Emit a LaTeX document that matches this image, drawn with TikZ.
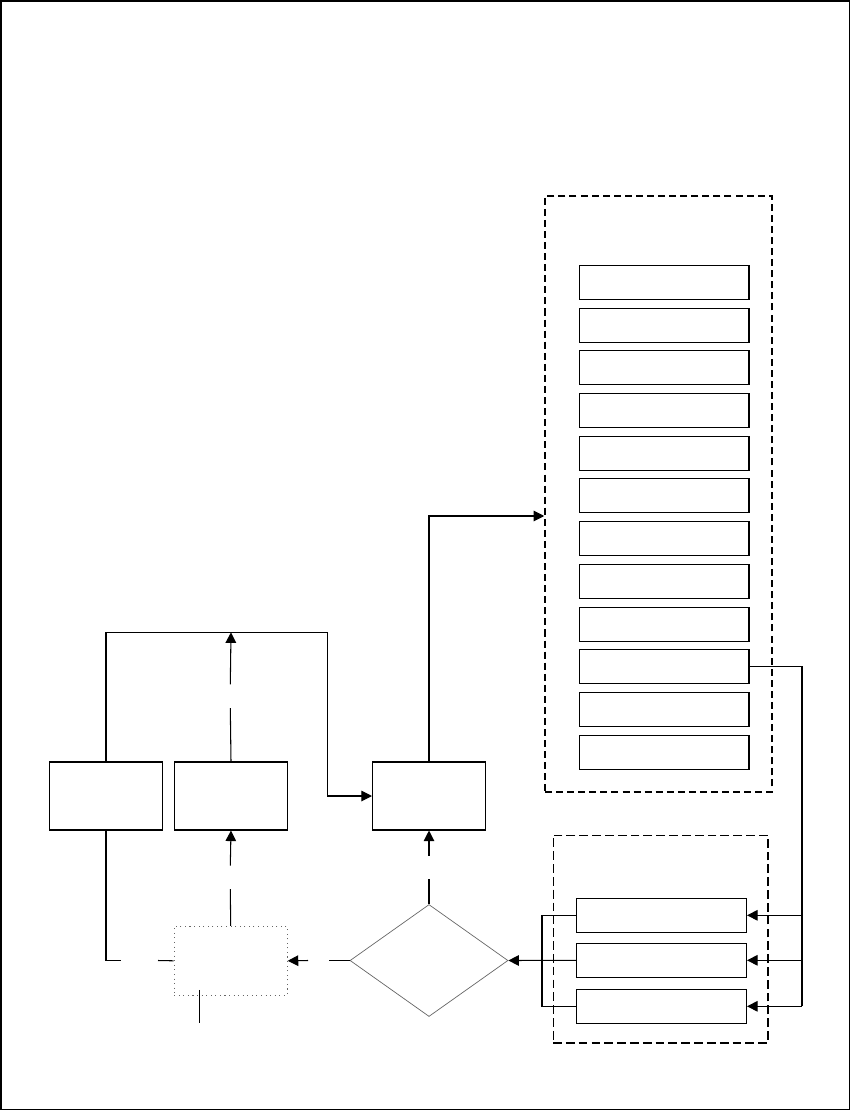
\documentclass[tikz,border=0pt]{standalone}
\usepackage{tikz}
\usetikzlibrary{arrows.meta,shapes.geometric}

\begin{document}
\begin{tikzpicture}[x={(0.02cm,0)}, y={(0,-0.02cm)}, line width=0.6pt,
    arr/.style={-{Triangle[length=6pt, width=6pt]}},
    blk/.style={draw, rectangle, minimum width=2.26cm, minimum height=1.36cm, inner sep=0pt},
    slot/.style={draw, rectangle, minimum width=3.4cm, minimum height=0.68cm, inner sep=0pt},
    bigframe/.style={draw, rectangle, line width=0.9pt, dash pattern=on 4pt off 2.3pt, inner sep=0pt},
    smallframe/.style={draw, rectangle, dash pattern=on 5pt off 2.3pt, inner sep=0pt}]
  \useasboundingbox (0,0) rectangle (851,1111);
  % OUTER FRAME
  \draw[line width=1pt] (1,1) rectangle (849.5,1109.5);

  % STACK — right column of twelve slots
  \node[bigframe, minimum width=4.54cm, minimum height=11.92cm] (lib) at (658.5,494) {};
  \foreach \i in {1,...,12}
    \node[slot] (s\i) at (664,{282.3+(\i-1)*42.73}) {};

  % LOWER GROUP — three slots
  \node[smallframe, minimum width=4.3cm, minimum height=4.16cm] (grp) at (660.5,939) {};
  \foreach \i/\y in {1/915.3, 2/960.3, 3/1006.3}
    \node[slot] (t\i) at (661.5,\y) {};

  % ROW OF BLOCKS
  \node[blk] (b1) at (106,796) {};
  \node[blk] (b2) at (231,796) {};
  \node[blk] (b3) at (429,796) {};
  \node[draw=black!60, dotted, rectangle, minimum width=2.26cm, minimum height=1.38cm, inner sep=0pt] (dot) at (230.7,960.8) {};
  \node[draw=black!60, line width=0.4pt, diamond, minimum width=3.16cm, minimum height=2.24cm, inner sep=0pt] (dia) at (429,960.5) {};

  % CONNECTORS
  \coordinate (loop) at (327.3,632.3);
  \draw[arr] (b1.north) |- (loop) |- (b3.west);
  \draw[arr] (b3.north) |- ([yshift=-0.44cm]lib.west);

  \coordinate (bus) at (802,0);
  \draw (s10.east) -| (bus |- t3.east);
  \foreach \i in {1,2,3}
    \draw[arr] (bus |- t\i.east) -- (t\i.east);

  \coordinate (brk) at (542,0);
  \draw (t1.west) -| (brk |- t3.west) -- (t3.west);
  \draw[arr] (t2.west) -- (dia.east);

  % broken connectors (gaps)
  \coordinate (g1a) at (230.3,708); \coordinate (g1b) at (230.3,684.3);
  \draw (b2.north) -- (g1a);
  \draw[arr] (g1b) -- (b2.north |- loop);

  \coordinate (g2a) at (230.3,889); \coordinate (g2b) at (230.3,865.7);
  \draw (dot.north) -- (g2a);
  \draw[arr] (g2b) -- (b2.south);

  \coordinate (g3a) at (429,879); \coordinate (g3b) at (429,855.7);
  \draw (dia.north) -- (g3a);
  \draw[arr] (g3b) -- (b3.south);

  \coordinate (g4a) at (329,960.5); \coordinate (g4b) at (308,960.5);
  \draw (dia.west) -- (g4a);
  \draw[arr] (g4b) -- (dot.east);

  \coordinate (g5a) at (120.7,960.5); \coordinate (g5b) at (158,960.5);
  \draw (b1.south) |- (g5a);
  \draw (g5b) -- (dot.west);

  \coordinate (stub) at (199.3,1023);
  \draw ([yshift=0.12cm]dot.south -| stub) -- (stub);
\end{tikzpicture}
\end{document}
